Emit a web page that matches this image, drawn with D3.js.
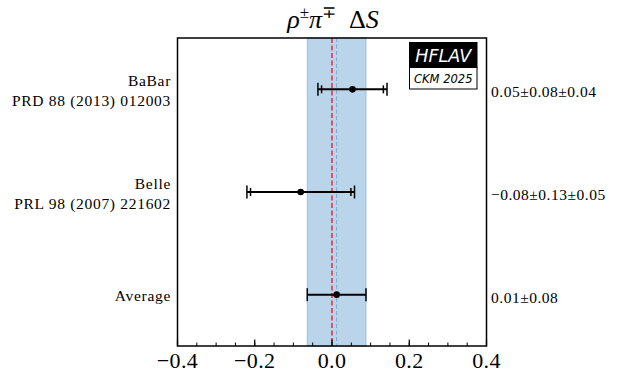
<!DOCTYPE html>
<html><head><meta charset="utf-8">
<script src="https://cdn.jsdelivr.net/npm/d3@7"></script>
<style>
html,body{margin:0;padding:0;background:#fff;}
svg{display:block;}
.serif{font-family:"Liberation Serif","Times New Roman",serif;}
</style></head>
<body>
<svg id="chart" width="627" height="381"></svg>
<script>
const experiments = ["BaBar", "Belle", "Average"];
const references = ["PRD 88 (2013) 012003", "PRL 98 (2007) 221602", ""];
const centralValues = [0.053, -0.081, 0.012];
const statErrors = [0.08, 0.13, 0.076];
const systErrors = [0.04, 0.05, 0];
const valueLabels = ["0.05±0.08±0.04", "−0.08±0.13±0.05", "0.01±0.08"];
const rowPositions = [2, 1, 0];
const xTicks = [-0.4, -0.2, 0.0, 0.2, 0.4];
const xTickLabels = ["−0.4", "−0.2", "0.0", "0.2", "0.4"];
const xMinorTicks = d3.range(-0.4, 0.4001, 0.05).map(v => +v.toFixed(2));
const averageIndex = 2;

const svg = d3.select("#chart");
const pLeft = 177.5, pRight = 486.5, pTop = 38, pBottom = 346;
const x = d3.scaleLinear().domain([-0.4, 0.4]).range([pLeft, pRight]);
const y = d3.scaleLinear().domain([-0.5, 2.5]).range([pBottom, pTop]);

// average band
const avg = centralValues[averageIndex], avgErr = statErrors[averageIndex];
svg.append("rect")
  .attr("x", x(avg - avgErr)).attr("y", pTop)
  .attr("width", x(avg + avgErr) - x(avg - avgErr)).attr("height", pBottom - pTop)
  .attr("fill", "rgb(186,213,233)")
  .attr("stroke", "rgb(150,192,224)").attr("stroke-width", 1);
svg.append("line")
  .attr("x1", x(avg)).attr("x2", x(avg)).attr("y1", pTop).attr("y2", pBottom)
  .attr("stroke", "rgb(120,170,215)").attr("stroke-width", 1)
  .attr("stroke-dasharray", "4,2.5");
// zero line
svg.append("line")
  .attr("x1", x(0)).attr("x2", x(0)).attr("y1", pTop).attr("y2", pBottom)
  .attr("stroke", "#e8141c").attr("stroke-width", 1.3)
  .attr("stroke-dasharray", "5,2.5");

// error bars
const g = svg.append("g");
experiments.forEach((name, i) => {
  const cy = y(rowPositions[i]);
  const v = centralValues[i];
  const tot = Math.sqrt(statErrors[i] ** 2 + systErrors[i] ** 2);
  g.append("line").attr("x1", x(v - tot)).attr("x2", x(v + tot))
    .attr("y1", cy).attr("y2", cy).attr("stroke", "#000").attr("stroke-width", 2);
  [v - tot, v + tot].forEach(e => {
    g.append("line").attr("x1", x(e)).attr("x2", x(e))
      .attr("y1", cy - 6.5).attr("y2", cy + 6.5).attr("stroke", "#000").attr("stroke-width", 1.5);
  });
  if (systErrors[i] > 0) {
    [v - statErrors[i], v + statErrors[i]].forEach(e => {
      g.append("line").attr("x1", x(e)).attr("x2", x(e))
        .attr("y1", cy - 4).attr("y2", cy + 4).attr("stroke", "#000").attr("stroke-width", 1.5);
    });
  }
  g.append("circle").attr("cx", x(v)).attr("cy", cy).attr("r", 3.3).attr("fill", "#000");

  // left labels
  const lt = svg.append("text").attr("class", "serif")
    .attr("text-anchor", "end").attr("font-size", 15.5).attr("letter-spacing", 0.7)
    .attr("fill", "#000");
  if (references[i]) {
    lt.append("tspan").attr("x", 171).attr("y", cy - 3).text(name);
    lt.append("tspan").attr("x", 171).attr("y", cy + 17).text(references[i]);
  } else {
    lt.append("tspan").attr("x", 171).attr("y", cy + 6).text(name);
  }
  // right labels
  svg.append("text").attr("class", "serif")
    .attr("x", 491).attr("y", cy + 8)
    .attr("font-size", 15.5).attr("letter-spacing", 0.5).attr("fill", "#000")
    .text(valueLabels[i]);
});

// axis ticks (inward)
const axis = svg.append("g").attr("transform", `translate(0,${pBottom})`);
axis.selectAll("line.minor").data(xMinorTicks).enter().append("line")
  .attr("x1", d => x(d)).attr("x2", d => x(d)).attr("y1", 0).attr("y2", -3.5)
  .attr("stroke", "#000").attr("stroke-width", 1);
axis.selectAll("line.major").data(xTicks).enter().append("line")
  .attr("x1", d => x(d)).attr("x2", d => x(d)).attr("y1", 0).attr("y2", -6.5)
  .attr("stroke", "#000").attr("stroke-width", 1.2);
axis.selectAll("text").data(xTicks).enter().append("text")
  .attr("class", "serif").attr("x", d => x(d)).attr("y", 22)
  .attr("text-anchor", "middle").attr("font-size", 22).attr("letter-spacing", 0.4)
  .attr("fill", "#000")
  .text((d, i) => xTickLabels[i]);

// frame
svg.append("rect").attr("x", pLeft).attr("y", pTop)
  .attr("width", pRight - pLeft).attr("height", pBottom - pTop)
  .attr("fill", "none").attr("stroke", "#000").attr("stroke-width", 1.5);

// title
const title = svg.append("text").attr("class", "serif")
  .attr("x", 333).attr("y", 28).attr("text-anchor", "middle")
  .attr("font-size", 26).attr("fill", "#000");
title.append("tspan").attr("font-style", "italic").text("ρ");
title.append("tspan").attr("font-size", 17).attr("dy", -10).text("±");
title.append("tspan").attr("font-style", "italic").attr("dy", 10).text("π");
title.append("tspan").attr("font-size", 17).attr("dy", -10).text("∓");
title.append("tspan").attr("dy", 10).text("\u2002Δ");
title.append("tspan").attr("font-style", "italic").text("S");

// HFLAV logo
const lx = 409.5, lw = 67.5;
svg.append("rect").attr("x", lx).attr("y", 42.5).attr("width", lw).attr("height", 25)
  .attr("fill", "#000").attr("stroke", "#000").attr("stroke-width", 1);
svg.append("rect").attr("x", lx).attr("y", 67.5).attr("width", lw).attr("height", 21.5)
  .attr("fill", "#fff").attr("stroke", "#000").attr("stroke-width", 1);
svg.append("text").attr("x", lx + lw / 2).attr("y", 62).attr("text-anchor", "middle")
  .attr("font-family", "DejaVu Sans, sans-serif").attr("font-style", "italic")
  .attr("font-size", 17.5).attr("fill", "#fff").text("HFLAV");
svg.append("text").attr("x", lx + lw / 2).attr("y", 83).attr("text-anchor", "middle")
  .attr("font-family", "DejaVu Sans, sans-serif").attr("font-style", "italic")
  .attr("font-size", 11.5).attr("fill", "#000").text("CKM 2025");
</script>
</body></html>
